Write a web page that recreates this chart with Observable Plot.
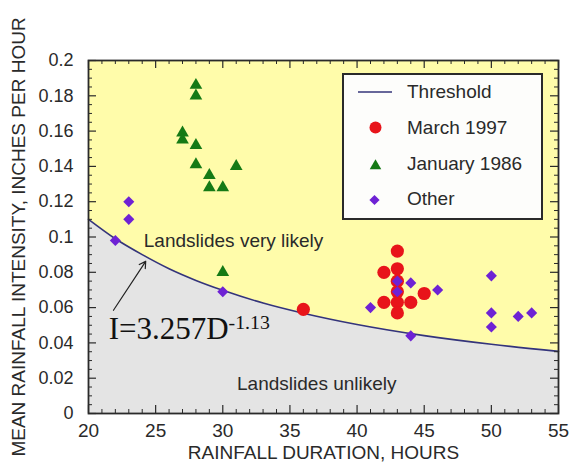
<!DOCTYPE html>
<html>
<head>
<meta charset="utf-8">
<script src="https://cdn.jsdelivr.net/npm/d3@7"></script>
<script src="https://cdn.jsdelivr.net/npm/@observablehq/plot@0.6"></script>
<style>
  html, body { margin: 0; padding: 0; background: #ffffff; }
  #chart { position: relative; width: 570px; height: 466px; }
</style>
</head>
<body>
<div id="chart"></div>
<script>
// ---- Threshold curve (duration in hours, intensity in in/h)
const thresholdDuration = [20, 22, 24, 26, 28, 30, 33, 36, 40, 45, 50, 55];
const thresholdIntensity = [0.110, 0.099, 0.090, 0.082, 0.0754, 0.0698, 0.0626, 0.0568, 0.0504, 0.0441, 0.0392, 0.0352];

// ---- March 1997 (red circles)
const marchDuration = [36, 42, 42, 43, 43, 43, 43, 43, 43, 44, 45];
const marchIntensity = [0.059, 0.080, 0.063, 0.092, 0.082, 0.075, 0.069, 0.063, 0.057, 0.063, 0.068];

// ---- January 1986 (green triangles)
const janDuration = [28, 28, 27, 27, 28, 28, 29, 29, 30, 31, 30];
const janIntensity = [0.186, 0.180, 0.159, 0.155, 0.152, 0.141, 0.135, 0.128, 0.128, 0.140, 0.080];

// ---- Other (purple diamonds)
const otherDuration = [22, 23, 23, 30, 41, 43, 43, 44, 44, 46, 50, 50, 50, 52, 53];
const otherIntensity = [0.098, 0.110, 0.120, 0.069, 0.060, 0.075, 0.069, 0.074, 0.044, 0.070, 0.078, 0.057, 0.049, 0.055, 0.057];

// ---- Axis ticks
const xMajorTicks = [20, 25, 30, 35, 40, 45, 50, 55];
const xMinorTicks = d3.range(20, 55.01, 1).filter(v => v % 5 !== 0);
const yMajorTicks = [0, 0.02, 0.04, 0.06, 0.08, 0.1, 0.12, 0.14, 0.16, 0.18, 0.2];
const yMinorTicks = d3.range(0, 0.2001, 0.005).filter(v => Math.abs(Math.round(v / 0.02) * 0.02 - v) > 1e-9);

// ---- Texts
const xTitle = "RAINFALL DURATION, HOURS";
const yTitle = "MEAN RAINFALL INTENSITY, INCHES PER HOUR";
const legendLabels = ["Threshold", "March 1997", "January 1986", "Other"];

const threshold = thresholdDuration.map((d, i) => ({d, v: thresholdIntensity[i]}));
const march = marchDuration.map((d, i) => ({d, v: marchIntensity[i]}));
const jan = janDuration.map((d, i) => ({d, v: janIntensity[i]}));
const other = otherDuration.map((d, i) => ({d, v: otherIntensity[i]}));

const W = 570, H = 466;
const mL = 88, mR = 12, mT = 60, mB = 53;
const plotW = W - mL - mR, plotH = H - mT - mB;

const YELLOW = "#fffcaa", GRAY = "#e4e4e4", NAVY = "#34347a";
const RED = "#e8141a", GREEN = "#157a15", PURPLE = "#6e22d4";
const INK = "#2a2a2a";
const SANS = "'Liberation Sans', Arial, Helvetica, sans-serif";

const plot = Plot.plot({
  width: W, height: H,
  marginLeft: mL, marginRight: mR, marginTop: mT, marginBottom: mB,
  style: {fontFamily: SANS, background: "#ffffff", color: INK},
  x: {domain: [20, 55], label: null},
  y: {domain: [0, 0.2], label: null},
  marks: [
    Plot.areaY(threshold, {x: "d", y1: 0, y2: "v", fill: GRAY, curve: "monotone-x"}),
    Plot.areaY(threshold, {x: "d", y1: "v", y2: 0.2, fill: YELLOW, curve: "monotone-x"}),
    Plot.line(threshold, {x: "d", y: "v", stroke: NAVY, strokeWidth: 1.6, curve: "monotone-x"}),
    // inward ticks on all four sides
    Plot.tickX(xMajorTicks, {x: d => d, insetTop: plotH - 8, stroke: INK, strokeWidth: 1.2}),
    Plot.tickX(xMinorTicks, {x: d => d, insetTop: plotH - 4, stroke: INK}),
    Plot.tickX(xMajorTicks, {x: d => d, insetBottom: plotH - 8, stroke: INK, strokeWidth: 1.2}),
    Plot.tickX(xMinorTicks, {x: d => d, insetBottom: plotH - 4, stroke: INK}),
    Plot.tickY(yMajorTicks, {y: d => d, insetRight: plotW - 8, stroke: INK, strokeWidth: 1.2}),
    Plot.tickY(yMinorTicks, {y: d => d, insetRight: plotW - 4, stroke: INK}),
    Plot.tickY(yMajorTicks, {y: d => d, insetLeft: plotW - 8, stroke: INK, strokeWidth: 1.2}),
    Plot.tickY(yMinorTicks, {y: d => d, insetLeft: plotW - 4, stroke: INK}),
    Plot.frame({stroke: INK, strokeWidth: 1.8}),
    Plot.axisX({ticks: xMajorTicks, tickSize: 0, tickPadding: 10, fontSize: 19, tickFormat: d => String(d)}),
    Plot.axisY({ticks: yMajorTicks, tickSize: 0, tickPadding: 15, fontSize: 18, tickFormat: d => String(+d.toFixed(3))}),
    // annotation texts
    Plot.text(["Landslides very likely"], {x: 30.8, y: 0.0977, text: d => d, fontSize: 19, fill: INK}),
    Plot.text(["Landslides unlikely"], {x: 37.0, y: 0.017, text: d => d, fontSize: 19, fill: INK}),
    Plot.text(["I=3.257D"], {x: 21.5, y: 0.0478, text: d => d, textAnchor: "start", fontSize: 31,
      fontFamily: "'Liberation Serif', 'Times New Roman', serif", fill: "#111", className: "eq"}),
    Plot.arrow([0], {x1: 21.86, y1: 0.0585, x2: 24.26, y2: 0.0862, headLength: 9, stroke: "#222", strokeWidth: 1.2}),
    // data points
    Plot.dot(march, {x: "d", y: "v", r: 6.6, fill: RED, stroke: "none", symbol: "circle"}),
    Plot.dot(other, {x: "d", y: "v", r: 5.0, fill: PURPLE, stroke: "none", symbol: "diamond2"}),
    Plot.dot(jan, {x: "d", y: "v", r: 4.7, fill: GREEN, stroke: "none", symbol: "triangle"}),
    // axis titles
    Plot.text([xTitle], {frameAnchor: "bottom", dy: 45, text: d => d, fontSize: 19, fill: INK}),
    Plot.text([yTitle], {frameAnchor: "left", textAnchor: "middle", dx: -70, rotate: -90, text: d => d, fontSize: 19, fill: INK})
  ]
});

document.getElementById("chart").appendChild(plot);
const svg = d3.select(plot);

// superscript on the equation
svg.select("g.eq text").append("tspan").attr("dy", "-0.5em").attr("font-size", "0.64em").text("-1.13");

// legend
const lg = svg.append("g").attr("font-family", SANS).attr("font-size", 19).attr("fill", INK)
  .attr("text-anchor", "start");
lg.append("rect").attr("x", 343).attr("y", 74).attr("width", 199).attr("height", 145)
  .attr("fill", "#fdfdfb").attr("stroke", INK).attr("stroke-width", 2);
lg.append("line").attr("x1", 358).attr("x2", 392).attr("y1", 92).attr("y2", 92)
  .attr("stroke", NAVY).attr("stroke-width", 1.6);
lg.append("circle").attr("cx", 375.5).attr("cy", 127.5).attr("r", 6).attr("fill", RED);
lg.append("path").attr("transform", "translate(375.5,166)")
  .attr("d", d3.symbol(d3.symbolTriangle, Math.PI * 4.3 * 4.3)()).attr("fill", GREEN);
lg.append("path").attr("transform", "translate(374.5,200)")
  .attr("d", d3.symbol(d3.symbolDiamond2, Math.PI * 4.6 * 4.6)()).attr("fill", PURPLE);
const ly = [91, 127, 163, 198];
legendLabels.forEach((t, i) => {
  lg.append("text").attr("x", 407).attr("y", ly[i]).attr("dy", "0.35em").text(t);
});
</script>
</body>
</html>
